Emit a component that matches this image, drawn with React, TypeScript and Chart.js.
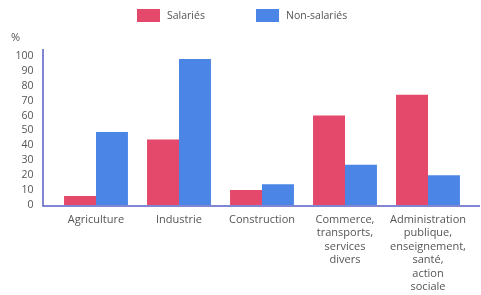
import React, { useEffect, useRef } from "react";
import { Chart, registerables } from "chart.js";

Chart.register(...registerables);

const categories: string[][] = [
  ["Agriculture"],
  ["Industrie"],
  ["Construction"],
  ["Commerce,", "transports,", "services", "divers"],
  ["Administration", "publique,", "enseignement,", "santé,", "action", "sociale"],
];
const salaries = [6, 44, 10, 60, 74];
const nonSalaries = [49, 98, 14, 27, 20];
const seriesNames = ["Salariés", "Non-salariés"];
const unitLabel = "%";

const RED = "#e4496b";
const BLUE = "#4b86e6";
const AXIS = "#5a5fc4";
const TEXT = "#555555";
const FONT = "'Open Sans', 'Noto Sans', sans-serif";

const decorPlugin = {
  id: "decor",
  afterDraw(chart: any) {
    const ctx = chart.ctx;
    const yScale = chart.scales.y;
    const y0 = yScale.getPixelForValue(0);
    ctx.save();
    ctx.strokeStyle = AXIS;
    ctx.lineWidth = 1.5;
    ctx.beginPath();
    ctx.moveTo(43, 49);
    ctx.lineTo(43, y0 + 1);
    ctx.lineTo(480, y0 + 1);
    ctx.stroke();
    ctx.fillStyle = TEXT;
    ctx.font = `11px ${FONT}`;
    ctx.textAlign = "left";
    ctx.textBaseline = "middle";
    ctx.fillText(unitLabel, 11, 38);
    const xs = [137, 256];
    chart.data.datasets.forEach((ds: any, i: number) => {
      ctx.fillStyle = ds.backgroundColor;
      ctx.fillRect(xs[i], 9, 23, 13);
      ctx.fillStyle = TEXT;
      ctx.font = `10.5px ${FONT}`;
      ctx.fillText(ds.label, xs[i] + 30, 16);
    });
    ctx.restore();
  },
};

export default function App() {
  const ref = useRef<HTMLCanvasElement>(null);
  useEffect(() => {
    document.body.style.margin = "0";
    const chart = new Chart(ref.current!, {
      type: "bar",
      data: {
        labels: categories,
        datasets: [
          { label: seriesNames[0], data: salaries, backgroundColor: RED },
          { label: seriesNames[1], data: nonSalaries, backgroundColor: BLUE },
        ],
      },
      options: {
        animation: false,
        responsive: false,
        maintainAspectRatio: false,
        layout: { padding: { top: 56, left: 0, right: 11.5, bottom: 0 } },
        plugins: { legend: { display: false }, tooltip: { enabled: false } },
        datasets: { bar: { categoryPercentage: 0.77, barPercentage: 1.0 } },
        scales: {
          x: {
            grid: { display: false, drawTicks: false },
            border: { display: false },
            ticks: {
              color: TEXT,
              font: { family: FONT, size: 11, lineHeight: 1.22 },
              padding: 8,
              maxRotation: 0,
              autoSkip: false,
            },
            afterFit(scale: any) {
              scale.height = 90;
            },
          },
          y: {
            min: 0,
            max: 100,
            grid: { display: false, drawTicks: false },
            border: { display: false },
            ticks: {
              stepSize: 10,
              autoSkip: false,
              color: TEXT,
              font: { family: FONT, size: 10.5 },
              padding: 21,
            },
            afterFit(scale: any) {
              scale.width = 54.5;
            },
          },
        },
      },
      plugins: [decorPlugin],
    });
    return () => chart.destroy();
  }, []);
  return (
    <div style={{ width: 481, height: 295, background: "#fff" }}>
      <canvas ref={ref} width={481} height={295} />
    </div>
  );
}
